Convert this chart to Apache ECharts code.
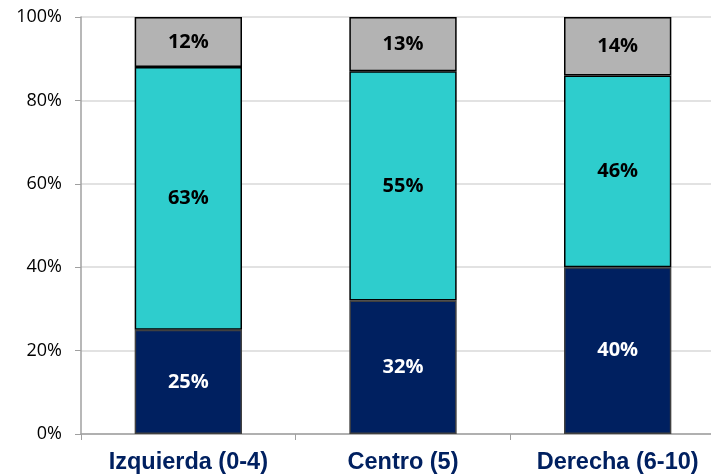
<!DOCTYPE html>
<html>
<head>
<meta charset="utf-8">
<script src="https://cdn.jsdelivr.net/npm/echarts@6/dist/echarts.min.js"></script>
<style>
  html, body { margin: 0; padding: 0; background: #fff; }
  #chart { width: 711px; height: 475px; }
</style>
</head>
<body>
<div id="chart"></div>
<script>
// categorías y valores (%)
const categories = ['Izquierda (0-4)', 'Centro (5)', 'Derecha (6-10)'];
const bottomVals = [25, 32, 40];
const middleVals = [63, 55, 46];
const topVals = [12, 13, 14];

var myChart = echarts.init(document.getElementById('chart'));

function segment(name, data, color, textColor, borderColor) {
    return {
        name: name,
        type: 'bar',
        stack: 'total',
        barWidth: '50%',
        data: data,
        itemStyle: {
            color: color,
            borderColor: borderColor,
            borderWidth: 1.5
        },
        label: {
            show: true,
            position: 'inside',
            formatter: '{c}%',
            color: textColor,
            fontWeight: 'bold',
            fontSize: 20,
            fontFamily: 'Open Sans'
        }
    };
}

var option = {
    animation: false,
    grid: {
        left: 81,
        top: 17,
        width: 644,
        height: 417,
        outerBoundsMode: 'none'
    },
    xAxis: {
        type: 'category',
        data: categories,
        axisLine: { lineStyle: { color: '#A0A0A0', width: 1.5 } },
        axisTick: { show: true, length: 6, lineStyle: { color: '#A0A0A0' } },
        axisLabel: {
            color: '#002060',
            fontWeight: 'bold',
            fontSize: 23.5,
            fontFamily: 'Liberation Sans',
            margin: 17
        }
    },
    yAxis: {
        type: 'value',
        min: 0,
        max: 100,
        interval: 20,
        axisLine: { show: true, lineStyle: { color: '#A0A0A0', width: 1.5 } },
        axisTick: { show: true, length: 6, lineStyle: { color: '#A0A0A0' } },
        axisLabel: {
            formatter: '{value}%',
            color: '#000',
            fontSize: 18,
            fontFamily: 'Open Sans',
            margin: 19
        },
        splitLine: { lineStyle: { color: '#D9D9D9', width: 1.5 } }
    },
    series: [
        segment('Izquierda', bottomVals, '#002060', '#fff', '#404040'),
        segment('Centro', middleVals, '#2ECDCD', '#000', '#000'),
        segment('Derecha', topVals, '#B3B3B3', '#000', '#000')
    ]
};

myChart.setOption(option);
</script>
</body>
</html>
